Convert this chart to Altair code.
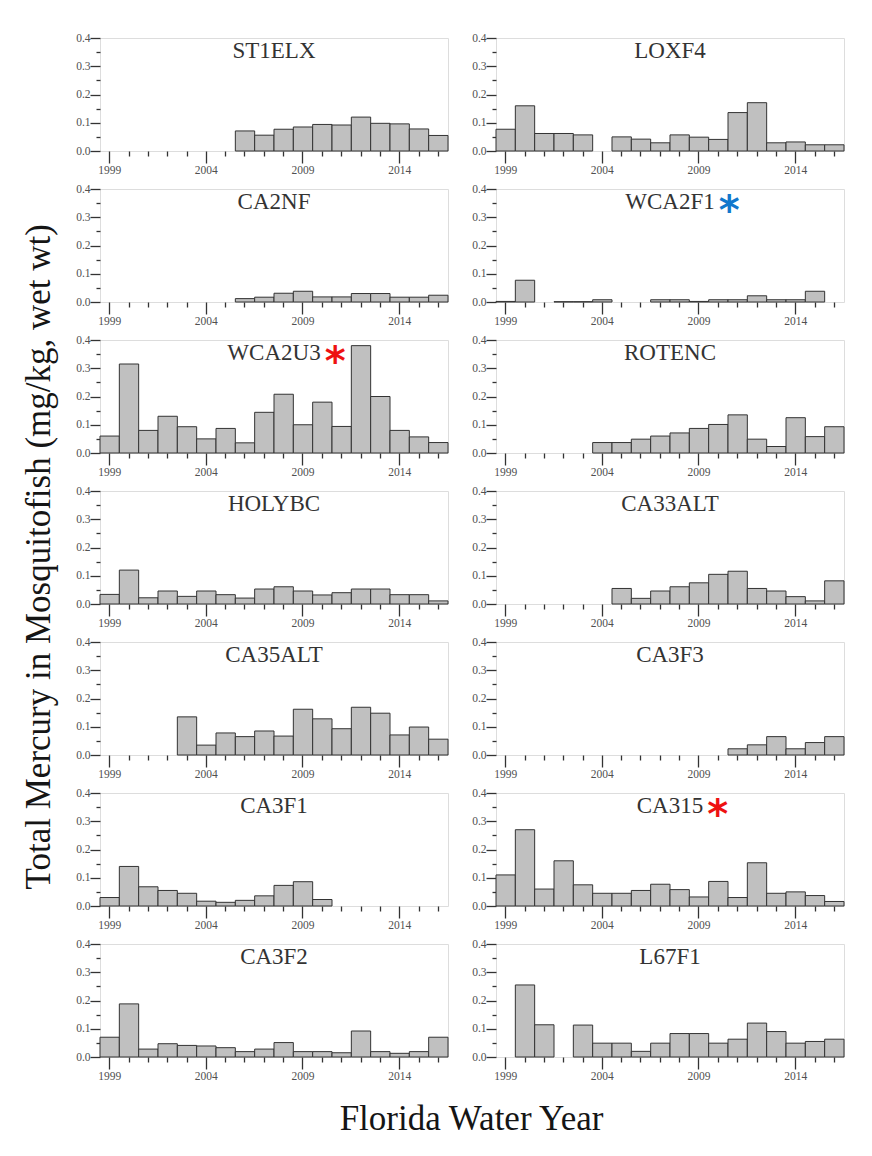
import altair as alt
import pandas as pd

YEARS = list(range(1999, 2017))
N = None

STATIONS = ["ST1ELX", "LOXF4", "CA2NF", "WCA2F1", "WCA2U3", "ROTENC", "HOLYBC",
            "CA33ALT", "CA35ALT", "CA3F3", "CA3F1", "CA315", "CA3F2", "L67F1"]

ST1ELX = [N] * 7 + [0.071, 0.056, 0.077, 0.085, 0.094, 0.092, 0.12, 0.098, 0.096, 0.078, 0.055]
LOXF4 = [0.077, 0.16, 0.062, 0.062, 0.057, N, 0.05, 0.042, 0.029, 0.057, 0.049, 0.041,
         0.136, 0.171, 0.029, 0.032, 0.022, 0.022]
CA2NF = [N] * 7 + [0.012, 0.017, 0.031, 0.038, 0.018, 0.018, 0.03, 0.03, 0.017, 0.017, 0.024]
WCA2F1 = [0.002, 0.077, N, 0.001, 0.001, 0.008, N, N, 0.008, 0.008, 0.002, 0.008, 0.008,
          0.022, 0.008, 0.008, 0.038, N]
WCA2U3 = [0.06, 0.315, 0.08, 0.13, 0.093, 0.05, 0.087, 0.036, 0.144, 0.208, 0.10, 0.18,
          0.094, 0.38, 0.20, 0.08, 0.057, 0.037]
ROTENC = [N] * 5 + [0.037, 0.037, 0.049, 0.06, 0.071, 0.087, 0.101, 0.135, 0.049, 0.023,
                    0.125, 0.058, 0.093]
HOLYBC = [0.034, 0.12, 0.022, 0.046, 0.027, 0.046, 0.033, 0.021, 0.053, 0.061, 0.046,
          0.032, 0.04, 0.053, 0.053, 0.033, 0.033, 0.011]
CA33ALT = [N] * 6 + [0.055, 0.02, 0.046, 0.061, 0.075, 0.105, 0.116, 0.055, 0.046, 0.026,
                     0.011, 0.082]
CA35ALT = [N] * 4 + [0.135, 0.035, 0.078, 0.065, 0.085, 0.067, 0.162, 0.128, 0.093, 0.169,
                     0.148, 0.071, 0.099, 0.056]
CA3F3 = [N] * 12 + [0.022, 0.036, 0.065, 0.022, 0.044, 0.065]
CA3F1 = [0.03, 0.14, 0.068, 0.055, 0.045, 0.017, 0.013, 0.02, 0.036, 0.073, 0.086, 0.023] + [N] * 6
CA315 = [0.11, 0.27, 0.06, 0.16, 0.075, 0.045, 0.045, 0.055, 0.077, 0.058, 0.032, 0.087,
         0.03, 0.153, 0.045, 0.05, 0.037, 0.016]
CA3F2 = [0.07, 0.188, 0.028, 0.047, 0.041, 0.039, 0.033, 0.019, 0.028, 0.051, 0.019, 0.019,
         0.015, 0.092, 0.019, 0.013, 0.019, 0.07]
L67F1 = [N, 0.255, 0.114, N, 0.113, 0.049, 0.049, 0.02, 0.049, 0.083, 0.083, 0.049, 0.063,
         0.12, 0.09, 0.049, 0.055, 0.063]

SERIES = [ST1ELX, LOXF4, CA2NF, WCA2F1, WCA2U3, ROTENC, HOLYBC,
          CA33ALT, CA35ALT, CA3F3, CA3F1, CA315, CA3F2, L67F1]

# flagged stations (asterisks)
FLAGS = {"WCA2U3": "#ee1111", "WCA2F1": "#1177cc", "CA315": "#ee1111"}

Y_TICKS = [0.0, 0.05, 0.1, 0.15, 0.2, 0.25, 0.3, 0.35, 0.4]
Y_TITLE = "Total Mercury in Mosquitofish (mg/kg, wet wt)"
X_TITLE = "Florida Water Year"

W, H = 348, 113
SERIF = "Liberation Serif"
TITLE_FS = 23

# approximate Times advance widths (em) for placing the asterisk after the label
_TW = {"W": .944, "C": .667, "A": .722, "U": .722, "F": .556, "1": .5, "2": .5,
       "3": .5, "5": .5}


def text_width(s, fs):
    return sum(_TW.get(ch, .6) for ch in s) * fs


x_axis = alt.Axis(
    values=YEARS,
    labelExpr="datum.value % 5 == 4 ? datum.label : ''",
    tickSize={"condition": {"test": "datum.value % 5 == 4", "value": 12}, "value": 5},
    labelAngle=0, labelFont=SERIF, labelFontSize=11.5, labelColor="#505050",
    tickColor="#333", tickWidth=1.3, domain=False, labelPadding=1, grid=False,
    title=None,
)
y_axis = alt.Axis(
    values=Y_TICKS,
    format=".1f",
    labelExpr="abs(datum.value * 10 - round(datum.value * 10)) < 0.001 ? datum.label : ''",
    tickSize={"condition": {"test": "abs(datum.value * 10 - round(datum.value * 10)) < 0.001",
                            "value": 10}, "value": 4},
    labelFont=SERIF, labelFontSize=11.5, labelColor="#505050", tickColor="#333",
    tickWidth=1.3, domain=False, labelPadding=0, grid=False, title=None,
)


def panel(name, vals):
    df = pd.DataFrame({"year": YEARS, "hg": vals}).dropna()
    bars = alt.Chart(df).mark_bar(fill="#c0c0c0", stroke="#333333", strokeWidth=1).encode(
        x=alt.X("year:O", scale=alt.Scale(domain=YEARS, paddingInner=0, paddingOuter=0),
                axis=x_axis),
        y=alt.Y("hg:Q", scale=alt.Scale(domain=[0, 0.4], nice=False, zero=True), axis=y_axis),
    )
    label = alt.Chart(pd.DataFrame({"name": [name]})).mark_text(
        font=SERIF, fontSize=TITLE_FS, color="#333333", align="center", baseline="middle"
    ).encode(x=alt.value(W / 2), y=alt.value(13), text="name:N")
    layers = [bars, label]
    if name in FLAGS:
        star = alt.Chart(pd.DataFrame({"s": ["*"]})).mark_text(
            font="DejaVu Sans", fontWeight="bold", fontSize=40, color=FLAGS[name],
            align="left", baseline="middle"
        ).encode(x=alt.value(W / 2 + text_width(name, TITLE_FS) / 2 + 4), y=alt.value(23),
                 text="s:N")
        layers.append(star)
    return alt.layer(*layers).properties(width=W, height=H)


panels = [panel(n, v) for n, v in zip(STATIONS, SERIES)]

grid = alt.concat(
    *panels, columns=2, spacing={"row": 38, "column": 48}, bounds="flush"
).properties(
    title=alt.TitleParams(Y_TITLE, orient="left", anchor="middle", fontSize=35, font=SERIF,
                          fontWeight="normal", color="#151515", offset=18)
)

chart = alt.vconcat(grid).properties(
    title=alt.TitleParams(X_TITLE, orient="bottom", anchor="middle", fontSize=35, font=SERIF,
                          fontWeight="normal", color="#151515", offset=20, dx=38),
    padding={"left": 22, "top": 31, "right": 0, "bottom": 0},
).configure_view(stroke="#555555", strokeWidth=1.5).configure(background="white")

chart.save("out.html", embed_options={"renderer": "svg", "actions": False})
